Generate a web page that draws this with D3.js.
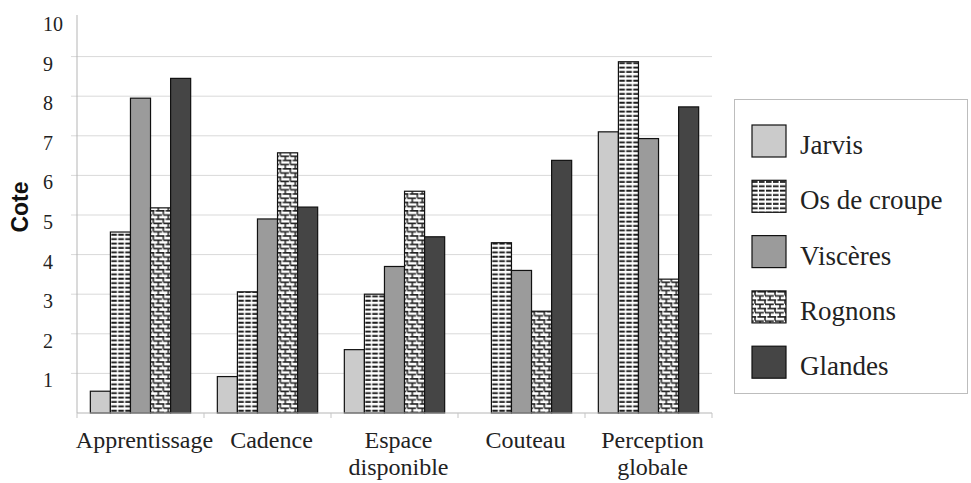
<!DOCTYPE html>
<html>
<head>
<meta charset="utf-8">
<script src="https://cdn.jsdelivr.net/npm/d3@7"></script>
<style>
  html, body { margin: 0; padding: 0; background: #fff; }
  svg { display: block; }
  .serif { font-family: "Liberation Serif", "Times New Roman", Tinos, "DejaVu Serif", serif; }
  .sans { font-family: "Liberation Sans", Arial, sans-serif; }
</style>
</head>
<body>
<svg id="chart" width="971" height="483"></svg>
<script>
// ---- Data ----
const categories = [["Apprentissage"], ["Cadence"], ["Espace", "disponible"], ["Couteau"], ["Perception", "globale"]];
const seriesNames = ["Jarvis", "Os de croupe", "Viscères", "Rognons", "Glandes"];
const jarvis   = [0.55, 0.92, 1.6, 0, 7.1];
const osCroupe = [4.57, 3.06, 3.0, 4.3, 8.87];
const visceres = [7.95, 4.9, 3.7, 3.6, 6.93];
const rognons  = [5.18, 6.57, 5.6, 2.57, 3.38];
const glandes  = [8.45, 5.2, 4.45, 6.38, 7.73];
const yTicks = [1, 2, 3, 4, 5, 6, 7, 8, 9, 10];
const yTitle = "Cote";

(function () {
const seriesValues = [jarvis, osCroupe, visceres, rognons, glandes];
const fills = ["#cbcbcb", "url(#patOs)", "#9b9b9b", "url(#patRog)", "#454545"];

const svg = d3.select("#chart");
const defs = svg.append("defs");

// Pattern: horizontal dashed stripes (Os de croupe)
const pOs = defs.append("pattern").attr("id", "patOs").attr("patternUnits", "userSpaceOnUse")
  .attr("width", 7).attr("height", 4.4);
pOs.append("rect").attr("width", 7).attr("height", 4.4).attr("fill", "#fff");
pOs.append("rect").attr("x", 0).attr("y", 0.6).attr("width", 5.6).attr("height", 1.9).attr("fill", "#1a1a1a");

// Pattern: brick-like (Rognons)
const pR = defs.append("pattern").attr("id", "patRog").attr("patternUnits", "userSpaceOnUse")
  .attr("width", 10).attr("height", 8.4);
pR.append("rect").attr("width", 10).attr("height", 8.4).attr("fill", "#fff");
pR.append("path").attr("d", "M0,0.8 H4.2 M5.4,0.8 H10 M0,5 H1.8 M3,5 H10 M3,0.8 V4.4 M8,5 V8.4")
  .attr("stroke", "#222").attr("stroke-width", 1.5).attr("fill", "none");

// ---- Scales ----
const pLeft = 77, pRight = 712, pTop = 17, pBottom = 413;
const x0 = d3.scaleBand().domain(d3.range(categories.length)).range([pLeft, pRight])
  .paddingInner(0.21).paddingOuter(0.105);
const x1 = d3.scaleBand().domain(d3.range(seriesNames.length)).range([0, x0.bandwidth()]);
const y = d3.scaleLinear().domain([0, 10]).range([pBottom, pTop]);

// Gridlines
svg.append("g").selectAll("line").data(yTicks.filter(t => t < 10)).join("line")
  .attr("x1", pLeft - 6).attr("x2", pRight)
  .attr("y1", d => y(d)).attr("y2", d => y(d))
  .attr("stroke", "#d9d9d9").attr("stroke-width", 1);

// Y axis line
svg.append("line").attr("x1", pLeft).attr("x2", pLeft).attr("y1", pTop - 2).attr("y2", pBottom)
  .attr("stroke", "#b5b5b5").attr("stroke-width", 1);

// Y tick labels
svg.append("g").selectAll("text").data(yTicks).join("text")
  .attr("class", "serif")
  .attr("x", 43).attr("y", d => y(d) + 14)
  .attr("font-size", 20).attr("fill", "#222")
  .text(d => d);

// Y title
svg.append("text").attr("transform", "translate(28,207) rotate(-90)")
  .attr("class", "sans")
  .attr("text-anchor", "middle")
  .attr("font-weight", "bold").attr("font-size", 23).attr("fill", "#111")
  .text(yTitle);

// Bars
const groups = svg.append("g").selectAll("g").data(categories).join("g")
  .attr("transform", (d, i) => `translate(${x0(i)},0)`);
groups.selectAll("rect")
  .data((d, i) => seriesValues.map((vals, s) => ({ s, v: vals[i] })).filter(e => e.v > 0))
  .join("rect")
  .attr("x", e => x1(e.s)).attr("width", x1.bandwidth())
  .attr("y", e => y(e.v)).attr("height", e => y(0) - y(e.v))
  .attr("fill", e => fills[e.s])
  .attr("stroke", "#111").attr("stroke-width", 1.2);

// Baseline (x axis)
svg.append("line").attr("x1", pLeft).attr("x2", pRight).attr("y1", pBottom).attr("y2", pBottom)
  .attr("stroke", "#b5b5b5").attr("stroke-width", 1);
const bounds = d3.range(categories.length + 1).map(i => pLeft + i * x0.step());
svg.append("g").selectAll("line").data(bounds).join("line")
  .attr("x1", d => d).attr("x2", d => d).attr("y1", pBottom).attr("y2", pBottom + 5)
  .attr("stroke", "#c5c5c5");

// X labels
const xl = svg.append("g").selectAll("text").data(categories).join("text")
  .attr("class", "serif")
  .attr("x", (d, i) => x0(i) + x0.bandwidth() / 2 + 4)
  .attr("y", 448)
  .attr("text-anchor", "middle")
  .attr("font-size", 24).attr("fill", "#222");
xl.selectAll("tspan").data(d => d).join("tspan")
  .attr("x", function() { return d3.select(this.parentNode).attr("x"); })
  .attr("dy", (d, j) => j === 0 ? 0 : 27)
  .text(d => d);

// Legend
svg.append("rect").attr("x", 734.5).attr("y", 99.5).attr("width", 233).attr("height", 294)
  .attr("fill", "#fff").attr("stroke", "#bdbdbd").attr("stroke-width", 1);
const lg = svg.append("g").selectAll("g").data(seriesNames).join("g")
  .attr("transform", (d, i) => `translate(752,${125 + i * 55.3})`);
lg.append("rect").attr("width", 34).attr("height", 32)
  .attr("fill", (d, i) => fills[i]).attr("stroke", "#111").attr("stroke-width", 1.2);
lg.append("text").attr("x", 48).attr("y", 29)
  .attr("class", "serif")
  .attr("font-size", 27).attr("fill", "#222")
  .text(d => d);
})();
</script>
</body>
</html>
